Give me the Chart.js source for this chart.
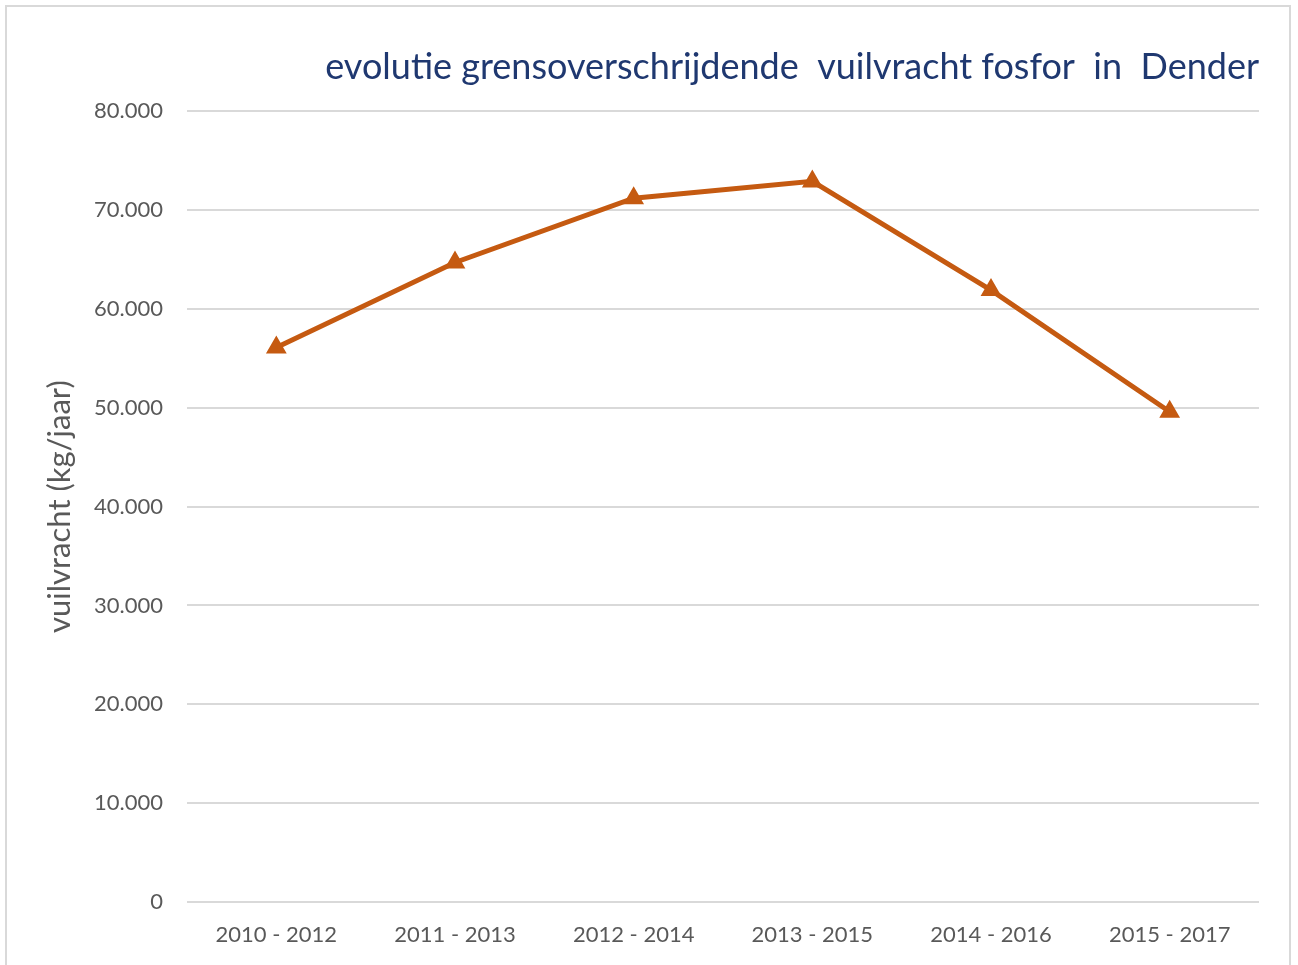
<!DOCTYPE html>
<html>
<head>
<meta charset="utf-8">
<script src="https://cdn.jsdelivr.net/npm/chart.js@4.4.1/dist/chart.umd.min.js"></script>
<style>
  body { margin: 0; background: #fff; }
  #wrap { position: absolute; left: 0; top: 0; width: 1298px; height: 965px; }
  #frame { position: absolute; left: 5px; top: 5px; width: 1282px; height: 975px; border: 2px solid #d9d9d9; pointer-events: none; }
</style>
</head>
<body>
<div id="wrap">
  <canvas id="chart" width="1298" height="965"></canvas>
  <div id="frame"></div>
</div>
<script>
// Data
const periods = ["2010 - 2012", "2011 - 2013", "2012 - 2014", "2013 - 2015", "2014 - 2016", "2015 - 2017"];
const loads = [56100, 64700, 71200, 72900, 61900, 49600];
const titleText = "evolutie grensoverschrijdende  vuilvracht fosfor  in  Dender";
const yTitle = "vuilvracht (kg/jaar)";

const fontFamily = "Lato, 'Open Sans', sans-serif";
const grey = "#595959";

// Dutch thousands separator
function formatNL(v) {
  return v.toLocaleString("de-DE");
}

new Chart(document.getElementById("chart"), {
  type: "line",
  data: {
    labels: periods,
    datasets: [{
      label: "vuilvracht",
      data: loads,
      borderColor: "#c55a11",
      backgroundColor: "#c55a11",
      borderWidth: 5,
      pointStyle: "triangle",
      pointRadius: 7,
      fill: false,
      tension: 0
    }]
  },
  options: {
    responsive: false,
    animation: false,
    layout: { padding: { left: 0, right: 39, top: 0, bottom: 0 } },
    plugins: {
      legend: { display: false },
      tooltip: { enabled: false },
      title: {
        display: true,
        text: titleText,
        align: "end",
        color: "#1f3870",
        font: { family: fontFamily, size: 36, weight: "normal" },
        padding: { top: 46, bottom: 22 }
      }
    },
    scales: {
      x: {
        offset: true,
        grid: { display: false },
        border: { display: false },
        ticks: { color: grey, font: { family: fontFamily, size: 22 }, padding: 12, maxRotation: 0 },
        afterFit: scale => { scale.height = 63; }
      },
      y: {
        min: 0,
        max: 80000,
        grid: { color: "#d9d9d9", lineWidth: 2, drawTicks: false },
        border: { display: false },
        ticks: {
          stepSize: 10000,
          color: grey,
          padding: 24,
          font: { family: fontFamily, size: 22 },
          callback: v => formatNL(v)
        },
        title: {
          display: true,
          text: yTitle,
          color: grey,
          font: { family: fontFamily, size: 31 },
          padding: { top: 41 }
        },
        afterFit: scale => { scale.width = 187; }
      }
    }
  }
});
</script>
</body>
</html>
